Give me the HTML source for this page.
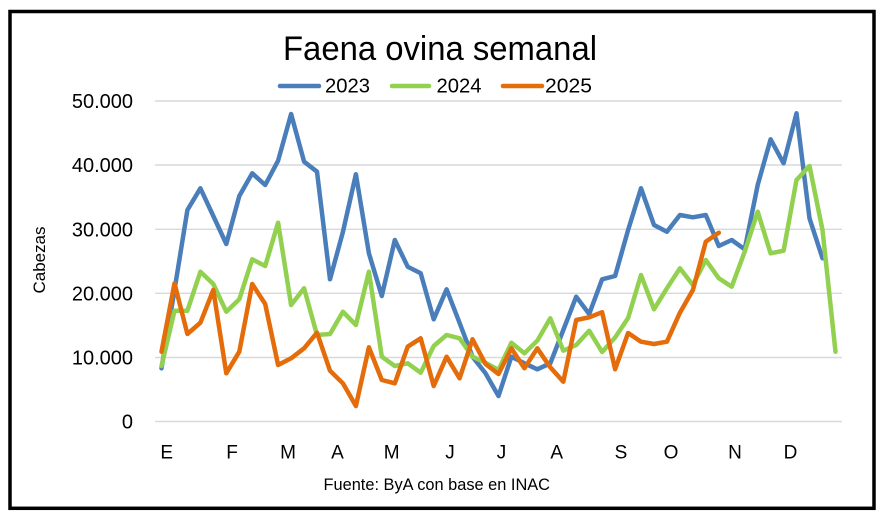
<!DOCTYPE html>
<html>
<head>
<meta charset="utf-8">
<style>
html,body{margin:0;padding:0;background:#fff;}
svg{display:block;}
text{font-family:"Liberation Sans",sans-serif;fill:#000;}
</style>
</head>
<body>
<svg width="882" height="520" viewBox="0 0 882 520" xmlns="http://www.w3.org/2000/svg">
<rect x="0" y="0" width="882" height="520" fill="#fff"/>
<rect x="10" y="11.5" width="864" height="496.8" fill="none" stroke="#000" stroke-width="3.5"/>

<!-- gridlines -->
<g stroke="#d9d9d9" stroke-width="1.4">
<line x1="155" y1="101" x2="842" y2="101"/>
<line x1="155" y1="165" x2="842" y2="165"/>
<line x1="155" y1="229.3" x2="842" y2="229.3"/>
<line x1="155" y1="293.3" x2="842" y2="293.3"/>
<line x1="155" y1="357.5" x2="842" y2="357.5"/>
<line x1="155" y1="421.5" x2="842" y2="421.5"/>
</g>

<!-- title -->
<text x="283" y="60" font-size="34" textLength="314" lengthAdjust="spacingAndGlyphs">Faena ovina semanal</text>

<!-- legend -->
<g stroke-width="4.5" stroke-linecap="round">
<line x1="280" y1="86" x2="319" y2="86" stroke="#4a7ebb"/>
<line x1="392" y1="86" x2="429" y2="86" stroke="#92d050"/>
<line x1="503" y1="86" x2="542" y2="86" stroke="#e46c0a"/>
</g>
<text x="325" y="92.7" font-size="20" textLength="45" lengthAdjust="spacingAndGlyphs">2023</text>
<text x="436.5" y="92.7" font-size="20" textLength="45" lengthAdjust="spacingAndGlyphs">2024</text>
<text x="545" y="92.7" font-size="20" textLength="47" lengthAdjust="spacingAndGlyphs">2025</text>

<!-- y labels -->
<g font-size="20" text-anchor="end">
<text x="133" y="108">50.000</text>
<text x="133" y="172">40.000</text>
<text x="133" y="236.3">30.000</text>
<text x="133" y="300.3">20.000</text>
<text x="133" y="364.5">10.000</text>
<text x="133" y="428.5">0</text>
</g>

<!-- y title -->
<text x="0" y="0" font-size="17" text-anchor="middle" transform="translate(45,260) rotate(-90)" textLength="67" lengthAdjust="spacingAndGlyphs">Cabezas</text>

<!-- x labels -->
<g font-size="19" text-anchor="middle">
<text x="166.7" y="458.5">E</text>
<text x="232" y="458.5">F</text>
<text x="288" y="458.5">M</text>
<text x="337.5" y="458.5">A</text>
<text x="391.7" y="458.5">M</text>
<text x="450" y="458.5">J</text>
<text x="501.5" y="458.5">J</text>
<text x="556.7" y="458.5">A</text>
<text x="621" y="458.5">S</text>
<text x="671" y="458.5">O</text>
<text x="735" y="458.5">N</text>
<text x="790.5" y="458.5">D</text>
</g>

<!-- footer -->
<text x="323.5" y="490" font-size="17" textLength="226.5" lengthAdjust="spacingAndGlyphs">Fuente: ByA con base en INAC</text>

<!-- series -->
<g fill="none" stroke-width="4.5" stroke-linejoin="round" stroke-linecap="round">
<polyline id="s2023" stroke="#4a7ebb" points="161.5,368.3 174.5,290 187.4,210 200.4,188.3 213.3,216 226.3,244 239.3,196 252.2,173.3 265.2,185 278.1,160.7 291.1,114 304.1,161.7 317,171.7 330,279.3 342.9,232 355.9,174.3 368.9,253.3 381.8,296 394.8,240 407.7,266.7 420.7,273.3 433.7,319.3 446.6,289.3 459.6,323 472.5,356.7 485.5,373.3 498.5,396 511.4,356.7 524.4,363.3 537.3,369.3 550.3,363.3 563.3,330 576.2,296.7 589.2,314 602.1,279.3 615.1,276 628.1,230 641,188.3 654,225 666.9,231.7 679.9,215 692.9,217.3 705.8,215 718.8,246 731.7,240 744.7,249.3 757.7,185 770.6,139.3 783.6,163.3 796.5,113.3 809.5,218.3 822.5,258.3"/>
<polyline id="s2024" stroke="#92d050" points="161.5,366 174.5,310.7 187.4,310.7 200.4,271.7 213.3,284 226.3,311.7 239.3,299.3 252.2,259.3 265.2,266 278.1,222.7 291.1,305 304.1,288.3 317,335 330,334 342.9,311.7 355.9,325 368.9,271.7 381.8,356.7 394.8,366 407.7,363.3 420.7,372.7 433.7,346 446.6,335 459.6,338.3 472.5,356.7 485.5,362.7 498.5,370 511.4,342.7 524.4,353.3 537.3,340.7 550.3,318.3 563.3,350.7 576.2,345 589.2,330.7 602.1,352 615.1,337.5 628.1,318 641,275 654,309.3 666.9,288.3 679.9,268.3 692.9,285 705.8,260 718.8,278.3 731.7,286.7 744.7,251.7 757.7,211.7 770.6,253.3 783.6,250.7 796.5,180 809.5,166 822.5,230 835.5,351.7"/>
<polyline id="s2025" stroke="#e46c0a" points="161.5,351.7 174.5,283.3 187.4,334 200.4,322.7 213.3,290 226.3,373.3 239.3,351.7 252.2,284 265.2,304 278.1,365 291.1,358.3 304.1,348.3 317,332.7 330,370.7 342.9,383.3 355.9,406 368.9,347.3 381.8,380 394.8,383.3 407.7,346.7 420.7,338.3 433.7,386 446.6,356.7 459.6,378.3 472.5,339.3 485.5,364 498.5,374 511.4,348.3 524.4,368.3 537.3,348.3 550.3,367.3 563.3,381.7 576.2,320 589.2,317.3 602.1,312.2 615.1,369.3 628.1,333 641,341.7 654,344 666.9,341.7 679.9,312.7 692.9,290 705.8,241.7 718.8,232.7"/>
</g>
</svg>
</body>
</html>
